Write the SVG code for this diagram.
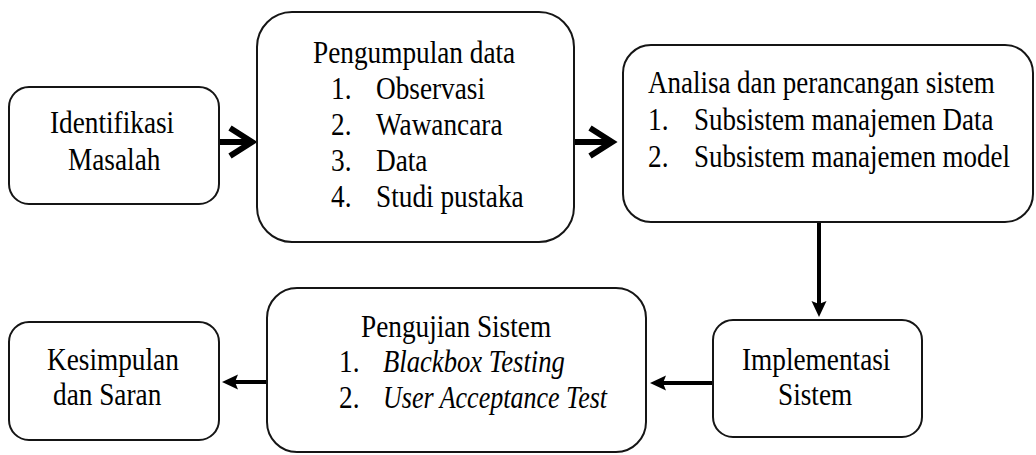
<svg xmlns="http://www.w3.org/2000/svg" width="1036" height="455" viewBox="0 0 1036 455">
  <style>
    .box { fill: #fff; stroke: #151515; stroke-width: 2; }
    text { font-family: "Liberation Serif", "Times New Roman", Times, serif; font-size: 31px; fill: #000; }
    .i { font-style: italic; }
    .thick { stroke: #000; stroke-width: 6; fill: none; }
    .thin { stroke: #000; stroke-width: 4; fill: none; }
  </style>
  <defs>
    <marker id="chev" markerUnits="userSpaceOnUse" viewBox="-30 -20 40 40" markerWidth="40" markerHeight="40" refX="0" refY="0" orient="auto" overflow="visible">
      <path d="M-22,-14 L0,0 L-22,14" fill="none" stroke="#000" stroke-width="6" stroke-linejoin="miter"/>
    </marker>
    <marker id="tri" markerUnits="userSpaceOnUse" viewBox="-12 -9 20 18" markerWidth="20" markerHeight="18" refX="0" refY="0" orient="auto" overflow="visible">
      <path d="M-10,-7.5 L6,0 L-10,7.5 L-7,0 Z" fill="#000"/>
    </marker>
  </defs>

  <g id="connectors">
    <line x1="219" y1="142" x2="252" y2="142" class="thick" marker-end="url(#chev)"/>
    <line x1="574" y1="142" x2="612" y2="142" class="thick" marker-end="url(#chev)"/>
    <line x1="819" y1="212" x2="819" y2="311" class="thin" marker-end="url(#tri)"/>
    <line x1="713" y1="383" x2="656" y2="383" class="thin" marker-end="url(#tri)"/>
    <line x1="267" y1="382" x2="228" y2="382" class="thin" marker-end="url(#tri)"/>
  </g>

  <g id="identifikasi">
    <rect class="box" x="9" y="87" width="210" height="117" rx="20"/>
    <text transform="translate(50,133) scale(0.88,1)">Identifikasi</text>
    <text transform="translate(68,170) scale(0.88,1)">Masalah</text>
  </g>

  <g id="pengumpulan">
    <rect class="box" x="257" y="12" width="317" height="230" rx="35"/>
    <text transform="translate(313,63) scale(0.88,1)">Pengumpulan data</text>
    <text transform="translate(331,99) scale(0.88,1)">1.</text>
    <text transform="translate(376,99) scale(0.88,1)">Observasi</text>
    <text transform="translate(331,135) scale(0.88,1)">2.</text>
    <text transform="translate(376,135) scale(0.88,1)">Wawancara</text>
    <text transform="translate(331,171) scale(0.88,1)">3.</text>
    <text transform="translate(376,171) scale(0.88,1)">Data</text>
    <text transform="translate(331,207) scale(0.88,1)">4.</text>
    <text transform="translate(376,207) scale(0.88,1)">Studi pustaka</text>
  </g>

  <g id="analisa">
    <rect class="box" x="623" y="45" width="410" height="177" rx="28"/>
    <text transform="translate(648,93) scale(0.87,1)">Analisa dan perancangan sistem</text>
    <text transform="translate(648,130) scale(0.88,1)">1.</text>
    <text transform="translate(694,130) scale(0.87,1)">Subsistem manajemen Data</text>
    <text transform="translate(648,167) scale(0.88,1)">2.</text>
    <text transform="translate(694,167) scale(0.87,1)">Subsistem manajemen model</text>
  </g>

  <g id="implementasi">
    <rect class="box" x="713" y="320" width="209" height="117" rx="20"/>
    <text transform="translate(742,370) scale(0.88,1)">Implementasi</text>
    <text transform="translate(778,405) scale(0.88,1)">Sistem</text>
  </g>

  <g id="pengujian">
    <rect class="box" x="267" y="288" width="379" height="164" rx="30"/>
    <text transform="translate(361,337) scale(0.88,1)">Pengujian Sistem</text>
    <text transform="translate(339,372) scale(0.88,1)">1.</text>
    <text class="i" transform="translate(383,372) scale(0.86,1)">Blackbox Testing</text>
    <text transform="translate(339,408) scale(0.88,1)">2.</text>
    <text class="i" transform="translate(383,408) scale(0.84,1)">User Acceptance Test</text>
  </g>

  <g id="kesimpulan">
    <rect class="box" x="9" y="322" width="210" height="118" rx="20"/>
    <text transform="translate(47,370) scale(0.88,1)">Kesimpulan</text>
    <text transform="translate(53,405) scale(0.88,1)">dan Saran</text>
  </g>
</svg>
